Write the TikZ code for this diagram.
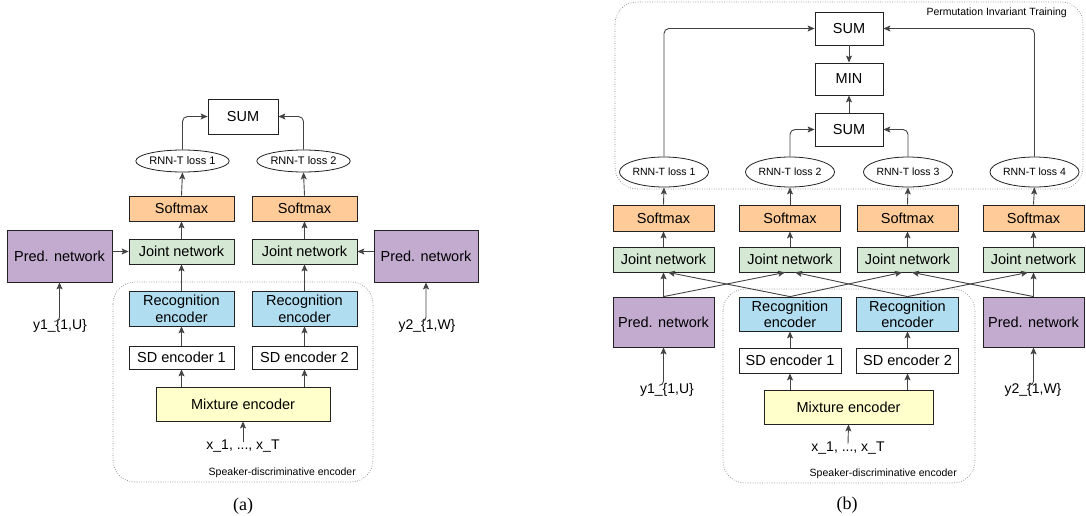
\documentclass[tikz,border=0pt]{standalone}
\usepackage{fontspec}
\setmainfont{Liberation Serif}
\newfontfamily\helv{Liberation Sans}
\usetikzlibrary{arrows.meta,shapes.geometric}
\definecolor{cpurple}{HTML}{C3ABD0}
\definecolor{corange}{HTML}{FFCC99}
\definecolor{cgreen}{HTML}{D5E8D4}
\definecolor{cblue}{HTML}{B1DDF0}
\definecolor{cyellow}{HTML}{FFFFCC}
\definecolor{cline}{HTML}{222222}
\tikzset{
  blk/.style={draw=cline, line width=0.8pt, inner sep=0pt, align=center, font=\helv\fontsize{14.5}{16}\selectfont},
  pred/.style={blk, fill=cpurple},
  smx/.style={blk, fill=corange},
  joint/.style={blk, fill=cgreen},
  rec/.style={blk, fill=cblue},
  sd/.style={blk, fill=white},
  mix/.style={blk, fill=cyellow},
  plain/.style={blk, fill=white},
  loss/.style={draw=cline, line width=0.8pt, ellipse, inner sep=0pt, font=\helv\fontsize{11}{12}\selectfont},
  lbl/.style={inner sep=0pt, font=\helv\fontsize{14}{16}\selectfont},
  small/.style={inner sep=0pt, font=\helv\fontsize{10.5}{12}\selectfont},
  captxt/.style={inner sep=0pt, font=\fontsize{18}{20}\selectfont},
  arr/.style={draw=cline!85, line width=0.9pt, -{Stealth[length=7pt,width=6pt,inset=1.5pt]}},
  grp/.style={draw=black!45, line width=0.7pt, dash pattern=on 0.8pt off 1.6pt, rounded corners=22pt}
}
\begin{document}
\begin{tikzpicture}[x=1pt,y=-1pt]
\useasboundingbox (0,0) rectangle (1086,516);
% ================= panel (a) =================
\draw[grp] (113,282) rectangle (373,482);
\node[small, anchor=east] (sdeAlbl) at (356,473) {Speaker-discriminative encoder};
\node[plain, minimum width=70, minimum height=35] (sumA) at (243,116.5) {SUM};
\node[loss, minimum width=79, minimum height=22] (lossA1) at (182.5,161) {RNN-T loss 1};
\node[loss, minimum width=79, minimum height=22] (lossA2) at (303.5,161) {RNN-T loss 2};
\node[smx, minimum width=105, minimum height=25] (smA1) at (181.5,208.5) {Softmax};
\node[smx, minimum width=105, minimum height=25] (smA2) at (304.5,208.5) {Softmax};
\node[joint, minimum width=105, minimum height=25] (jnA1) at (181.5,251.5) {Joint network};
\node[joint, minimum width=105, minimum height=25] (jnA2) at (304.5,251.5) {Joint network};
\node[pred, minimum width=105, minimum height=52] (predA1) at (59.5,256) {Pred. network};
\node[pred, minimum width=104, minimum height=52] (predA2) at (426,256) {Pred. network};
\node[rec, minimum width=105, minimum height=35, font=\helv\fontsize{14.5}{17}\selectfont] (recA1) at (181.5,308.5) {Recognition\\encoder};
\node[rec, minimum width=105, minimum height=35, font=\helv\fontsize{14.5}{17}\selectfont] (recA2) at (304.5,308.5) {Recognition\\encoder};
\node[sd, minimum width=105, minimum height=23] (sdA1) at (181.5,357.5) {SD encoder 1};
\node[sd, minimum width=105, minimum height=23] (sdA2) at (304.5,357.5) {SD encoder 2};
\node[mix, minimum width=174, minimum height=34] (mixA) at (243,404) {Mixture encoder};
\node[lbl] (xA) at (243,446) {x\_1, ..., x\_T};
\node[lbl] (yA1) at (60,326) {y1\_\{1,U\}};
\node[lbl] (yA2) at (427,326) {y2\_\{1,W\}};
\node[captxt] (capA) at (243,506) {(a)};
\draw[arr, rounded corners=5pt] (lossA1.north) |- (sumA.west);
\draw[arr, rounded corners=5pt] (lossA2.north) |- (sumA.east);
\draw[arr] (smA1.north) -- (lossA1.south);
\draw[arr] (smA2.north) -- (lossA2.south);
\draw[arr] (jnA1.north) -- (smA1.south);
\draw[arr] (jnA2.north) -- (smA2.south);
\draw[arr] (recA1.north) -- (jnA1.south);
\draw[arr] (recA2.north) -- (jnA2.south);
\draw[arr] (sdA1.north) -- (recA1.south);
\draw[arr] (sdA2.north) -- (recA2.south);
\draw[arr] (mixA.north -| sdA1) -- (sdA1.south);
\draw[arr] (mixA.north -| sdA2) -- (sdA2.south);
\draw[arr] ([yshift=-2pt]xA.north) -- (mixA.south);
\draw[arr] (predA1.east |- jnA1) -- (jnA1.west);
\draw[arr] (predA2.west |- jnA2) -- (jnA2.east);
\draw[arr, rounded corners=4pt] ([xshift=-6pt,yshift=-2pt]yA1.north) -| (predA1.south);
\draw[arr, rounded corners=4pt] ([xshift=-6pt,yshift=-2pt]yA2.north) -| (predA2.south);
% ================= panel (b) =================
\draw[grp] (615,2) rectangle (1083,189);
\node[small, anchor=east] (pitlbl) at (1067,13) {Permutation Invariant Training};
\draw[grp] (723,289) rectangle (975,483);
\node[small, anchor=east] (sdeBlbl) at (957,474) {Speaker-discriminative encoder};
\node[plain, minimum width=68, minimum height=33] (sumB1) at (849,28.5) {SUM};
\node[plain, minimum width=68, minimum height=32] (minB) at (849,79) {MIN};
\node[plain, minimum width=68, minimum height=33] (sumB2) at (849,129.5) {SUM};
\foreach \i/\x in {1/664,2/790,3/908,4/1034.5}{
  \node[loss, minimum width=77, minimum height=30, font=\helv\fontsize{10.5}{12}\selectfont] (lossB\i) at (\x,172) {RNN-T loss \i};
}
\foreach \i/\x in {1/663.5,2/790,3/907.5,4/1033.5}{
  \node[smx, minimum width=101, minimum height=26] (smB\i) at (\x,218) {Softmax};
  \node[joint, minimum width=101, minimum height=25] (jnB\i) at (\x,259.5) {Joint network};
  \draw[arr] (smB\i.north) -- (lossB\i.south);
  \draw[arr] (jnB\i.north) -- (smB\i.south);
}
\node[pred, minimum width=101, minimum height=50] (predB1) at (663.5,322) {Pred. network};
\node[pred, minimum width=101, minimum height=50] (predB2) at (1033.5,322) {Pred. network};
\node[rec, minimum width=102, minimum height=34] (recB1) at (790,314) {Recognition\\encoder};
\node[rec, minimum width=102, minimum height=34] (recB2) at (907.5,314) {Recognition\\encoder};
\node[sd, minimum width=102, minimum height=25] (sdB1) at (790,360.5) {SD encoder 1};
\node[sd, minimum width=102, minimum height=25] (sdB2) at (907.5,360.5) {SD encoder 2};
\node[mix, minimum width=169, minimum height=34] (mixB) at (848.5,407) {Mixture encoder};
\node[lbl] (xB) at (848,448) {x\_1, ..., x\_T};
\node[lbl] (yB1) at (667,390) {y1\_\{1,U\}};
\node[lbl] (yB2) at (1033,390) {y2\_\{1,W\}};
\node[captxt] (capB) at (847,505) {(b)};
\draw[arr, rounded corners=5pt] (lossB1.north) |- (sumB1.west);
\draw[arr, rounded corners=5pt] (lossB4.north) |- (sumB1.east);
\draw[arr, rounded corners=5pt] (lossB2.north) |- (sumB2.west);
\draw[arr, rounded corners=5pt] (lossB3.north) |- (sumB2.east);
\draw[arr] (sumB1.south) -- (minB.north);
\draw[arr] (sumB2.north) -- (minB.south);
\draw[arr] (predB1.north) -- (jnB1.south);
\draw[arr] (predB1.north) -- ([xshift=-5pt]jnB2.south);
\draw[arr] (recB1.north) -- ([xshift=4.5pt]jnB1.south);
\draw[arr] (recB1.north) -- ([xshift=-5.5pt]jnB3.south);
\draw[arr] (recB2.north) -- ([xshift=5pt]jnB2.south);
\draw[arr] (recB2.north) -- ([xshift=-5.5pt]jnB4.south);
\draw[arr] (predB2.north) -- ([xshift=4.5pt]jnB3.south);
\draw[arr] (predB2.north) -- (jnB4.south);
\draw[arr] (sdB1.north) -- (recB1.south);
\draw[arr] (sdB2.north) -- (recB2.south);
\draw[arr] (mixB.north -| sdB1) -- (sdB1.south);
\draw[arr] (mixB.north -| sdB2) -- (sdB2.south);
\draw[arr] ([yshift=-2pt]xB.north) -- (mixB.south);
\draw[arr, rounded corners=4pt] ([xshift=-8pt,yshift=-2pt]yB1.north) -| (predB1.south);
\draw[arr, rounded corners=4pt] ([xshift=-6pt,yshift=-2pt]yB2.north) -| (predB2.south);
\end{tikzpicture}
\end{document}
